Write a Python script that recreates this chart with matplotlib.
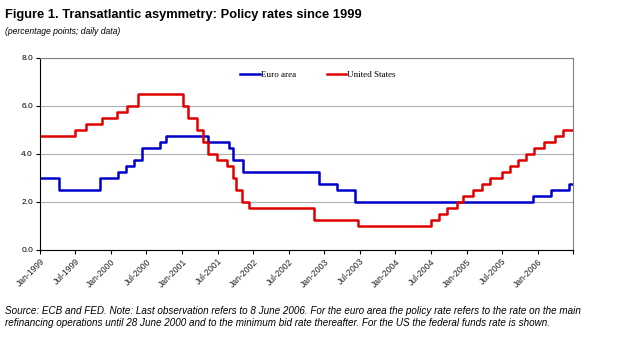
import matplotlib
matplotlib.use("Agg")
import matplotlib.pyplot as plt
import pandas as pd

# policy rate changes (date the new rate takes effect, new level in %)
euro_dates = ["1999-01-01", "1999-04-09", "1999-11-05", "2000-02-04", "2000-03-17",
              "2000-04-28", "2000-06-09", "2000-09-06", "2000-10-11", "2001-05-11",
              "2001-08-31", "2001-09-18", "2001-11-09", "2002-12-06", "2003-03-07",
              "2003-06-06", "2005-12-06", "2006-03-08", "2006-06-08"]
euro_rates = [3.00, 2.50, 3.00, 3.25, 3.50, 3.75, 4.25, 4.50, 4.75, 4.50,
              4.25, 3.75, 3.25, 2.75, 2.50, 2.00, 2.25, 2.50, 2.75]

us_dates = ["1999-01-01", "1999-06-30", "1999-08-24", "1999-11-16", "2000-02-02",
            "2000-03-21", "2000-05-16", "2001-01-03", "2001-01-31", "2001-03-20",
            "2001-04-18", "2001-05-15", "2001-06-27", "2001-08-21", "2001-09-17",
            "2001-10-02", "2001-11-06", "2001-12-11", "2002-11-06", "2003-06-25",
            "2004-06-30", "2004-08-10", "2004-09-21", "2004-11-10", "2004-12-14",
            "2005-02-02", "2005-03-22", "2005-05-03", "2005-06-30", "2005-08-09",
            "2005-09-20", "2005-11-01", "2005-12-13", "2006-01-31", "2006-03-28",
            "2006-05-10"]
us_rates = [4.75, 5.00, 5.25, 5.50, 5.75, 6.00, 6.50, 6.00, 5.50, 5.00,
            4.50, 4.00, 3.75, 3.50, 3.00, 2.50, 2.00, 1.75, 1.25, 1.00,
            1.25, 1.50, 1.75, 2.00, 2.25, 2.50, 2.75, 3.00, 3.25, 3.50,
            3.75, 4.00, 4.25, 4.50, 4.75, 5.00]

end_date = "2006-07-01"
tick_dates = pd.date_range("1999-01-01", end_date, freq="6MS")
tick_labels = [t.strftime("%b-%Y") for t in tick_dates[:-1]] + [""]

plt.rcParams["font.family"] = ["Liberation Sans", "DejaVu Sans"]

def steps(dates, rates):
    d = list(pd.to_datetime(dates)) + [pd.Timestamp(end_date)]
    r = list(rates) + [rates[-1]]
    return d, r

fig = plt.figure(figsize=(6.23, 3.43), dpi=100)
ax = fig.add_axes([40 / 623, 1 - 250 / 343, 533 / 623, 192 / 343])

d, r = steps(euro_dates, euro_rates)
ax.step(d, r, where="post", color="#0000cc", lw=1.8, label="Euro area")
d, r = steps(us_dates, us_rates)
ax.step(d, r, where="post", color="#e00000", lw=1.8, label="United States")

ax.set_ylim(0, 8)
ax.set_yticks([0, 2, 4, 6, 8])
ax.set_yticklabels(["0.0", "2.0", "4.0", "6.0", "8.0"], fontsize=6)
ax.set_xlim(pd.Timestamp("1999-01-01"), pd.Timestamp(end_date))
ax.set_xticks(tick_dates)
ax.set_xticklabels(tick_labels, rotation=45, ha="right", rotation_mode="anchor",
                   fontsize=6.2, color="#222222")
ax.tick_params(axis="both", length=3, width=0.8, pad=2)
ax.grid(axis="y", color="#b0b0b0", lw=0.8)
ax.set_axisbelow(True)
for s in ["top", "right"]:
    ax.spines[s].set_color("#808080")
for s in ["left", "bottom"]:
    ax.spines[s].set_color("black")

ax.legend(loc="upper left", bbox_to_anchor=(0.36, 0.975), ncol=2, frameon=False,
          prop={"family": "Liberation Serif", "size": 6.5},
          handlelength=2.2, handletextpad=0.1, columnspacing=3.4)

fig.text(5 / 623, 1 - 15 / 343, "Figure 1. Transatlantic asymmetry: Policy rates since 1999",
         fontsize=9.3, fontweight="bold", va="center")
fig.text(5 / 623, 1 - 31 / 343, "(percentage points; daily data)",
         fontsize=6.2, style="italic", va="center")
fig.text(5 / 623, 1 - 311 / 343,
         "Source: ECB and FED. Note: Last observation refers to 8 June 2006. For the euro area the policy rate refers to the rate on the main",
         fontsize=7.1, style="italic", va="center")
fig.text(5 / 623, 1 - 323 / 343,
         "refinancing operations until 28 June 2000 and to the minimum bid rate thereafter. For the US the federal funds rate is shown.",
         fontsize=7.1, style="italic", va="center")

fig.savefig("out.png", dpi=100)
